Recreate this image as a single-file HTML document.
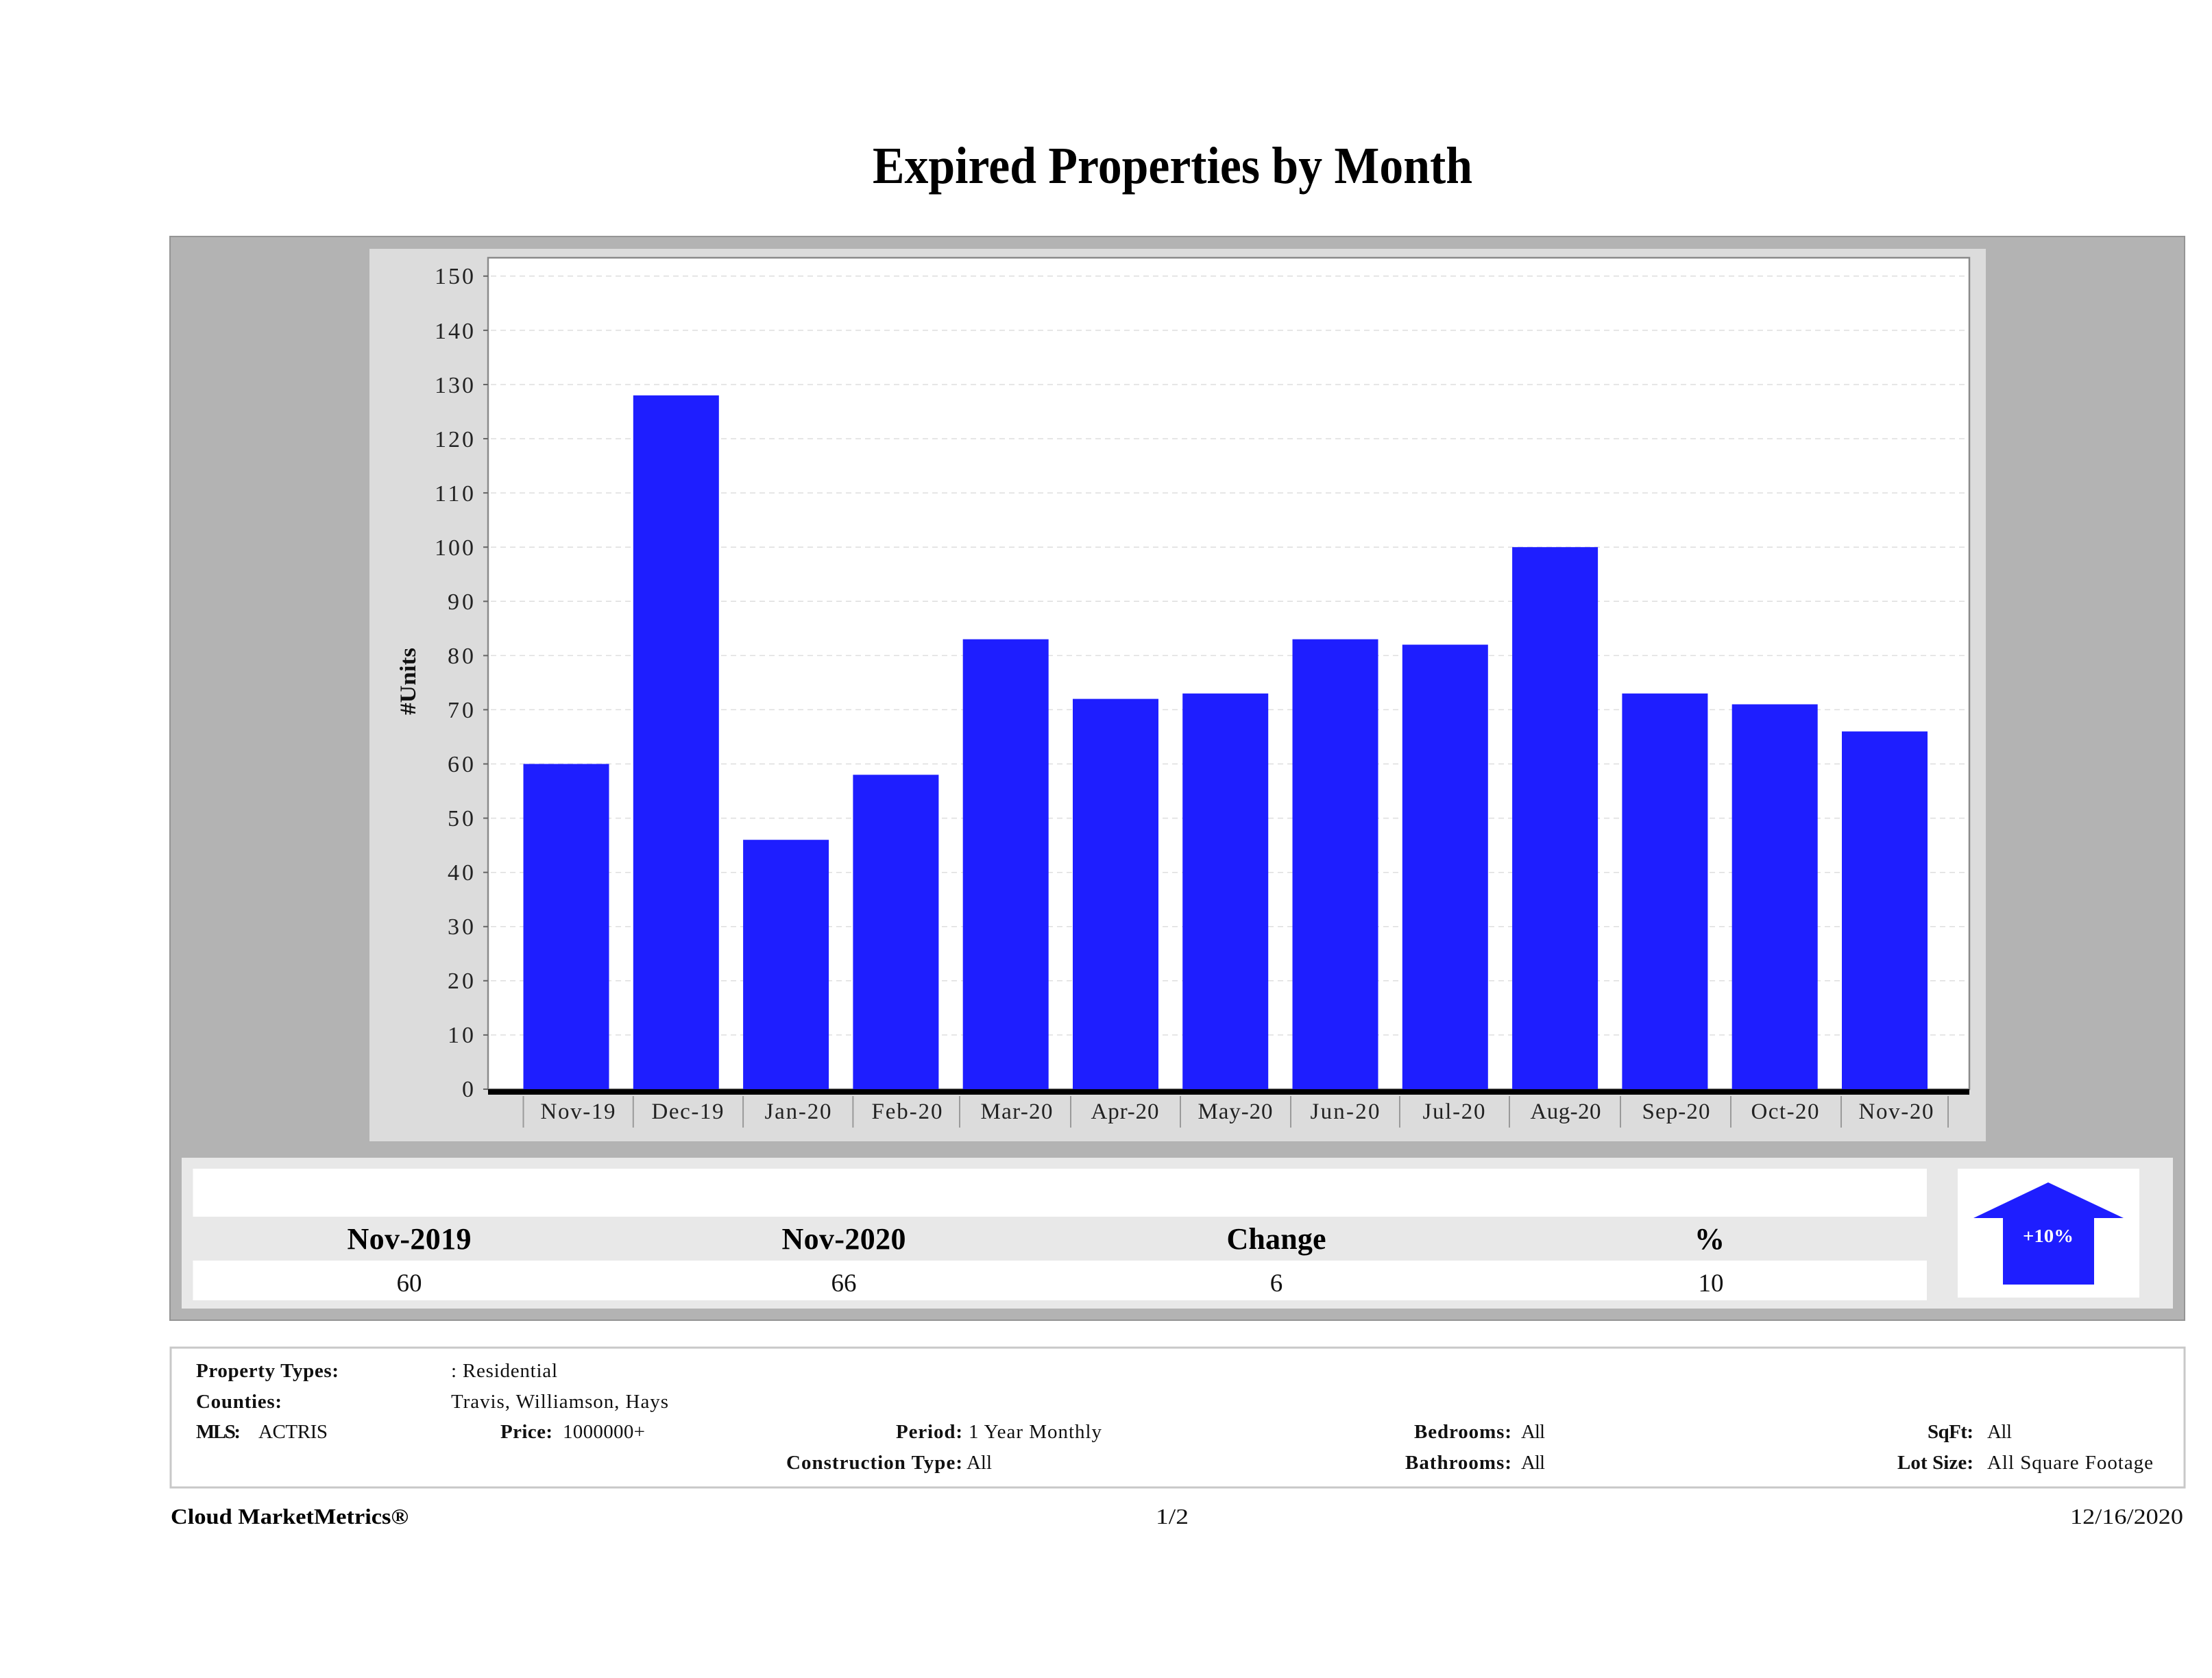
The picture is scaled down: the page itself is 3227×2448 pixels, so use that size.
<!DOCTYPE html>
<html>
<head>
<meta charset="utf-8">
<style>
html,body{margin:0;padding:0;background:#fff;}
svg{display:block;}
text{font-family:"Liberation Serif","DejaVu Serif",serif;}
</style>
</head>
<body>
<svg width="3227" height="2448" viewBox="0 0 3227 2448" xmlns="http://www.w3.org/2000/svg">
<rect x="0" y="0" width="3227" height="2448" fill="#ffffff"/>

<!-- Title -->
<text x="1710.5" y="267" font-size="76" font-weight="bold" text-anchor="middle" textLength="875" lengthAdjust="spacingAndGlyphs" fill="#000">Expired Properties by Month</text>

<!-- Outer gray panel -->
<rect x="248" y="345" width="2939" height="1581" fill="#b3b3b3" stroke="#959595" stroke-width="2"/>

<!-- Inner chart panel -->
<rect x="539" y="363" width="2358" height="1302" fill="#dcdcdc"/>

<!-- Plot area -->
<rect x="712" y="376" width="2161" height="1213" fill="#ffffff" stroke="#8a8a8a" stroke-width="2.5"/>

<!-- Gridlines -->
<g stroke="#dedede" stroke-width="1.5" stroke-dasharray="8,6">
<line x1="716" y1="1509.9" x2="2870" y2="1509.9"/>
<line x1="716" y1="1430.8" x2="2870" y2="1430.8"/>
<line x1="716" y1="1351.8" x2="2870" y2="1351.8"/>
<line x1="716" y1="1272.7" x2="2870" y2="1272.7"/>
<line x1="716" y1="1193.6" x2="2870" y2="1193.6"/>
<line x1="716" y1="1114.5" x2="2870" y2="1114.5"/>
<line x1="716" y1="1035.4" x2="2870" y2="1035.4"/>
<line x1="716" y1="956.4" x2="2870" y2="956.4"/>
<line x1="716" y1="877.3" x2="2870" y2="877.3"/>
<line x1="716" y1="798.2" x2="2870" y2="798.2"/>
<line x1="716" y1="719.1" x2="2870" y2="719.1"/>
<line x1="716" y1="640.0" x2="2870" y2="640.0"/>
<line x1="716" y1="561.0" x2="2870" y2="561.0"/>
<line x1="716" y1="481.9" x2="2870" y2="481.9"/>
<line x1="716" y1="402.8" x2="2870" y2="402.8"/>
</g>

<!-- Y ticks -->
<g stroke="#666" stroke-width="2">
<line x1="705" y1="1589" x2="712" y2="1589"/>
<line x1="705" y1="1509.9" x2="712" y2="1509.9"/>
<line x1="705" y1="1430.8" x2="712" y2="1430.8"/>
<line x1="705" y1="1351.8" x2="712" y2="1351.8"/>
<line x1="705" y1="1272.7" x2="712" y2="1272.7"/>
<line x1="705" y1="1193.6" x2="712" y2="1193.6"/>
<line x1="705" y1="1114.5" x2="712" y2="1114.5"/>
<line x1="705" y1="1035.4" x2="712" y2="1035.4"/>
<line x1="705" y1="956.4" x2="712" y2="956.4"/>
<line x1="705" y1="877.3" x2="712" y2="877.3"/>
<line x1="705" y1="798.2" x2="712" y2="798.2"/>
<line x1="705" y1="719.1" x2="712" y2="719.1"/>
<line x1="705" y1="640.0" x2="712" y2="640.0"/>
<line x1="705" y1="561.0" x2="712" y2="561.0"/>
<line x1="705" y1="481.9" x2="712" y2="481.9"/>
<line x1="705" y1="402.8" x2="712" y2="402.8"/>
</g>

<!-- Y labels -->
<g font-size="34" fill="#222" text-anchor="end" lengthAdjust="spacingAndGlyphs">
<text x="691" y="1600" textLength="18">0</text>
<text x="691" y="1521" textLength="38">10</text>
<text x="691" y="1442" textLength="38">20</text>
<text x="691" y="1363" textLength="38">30</text>
<text x="691" y="1284" textLength="38">40</text>
<text x="691" y="1205" textLength="38">50</text>
<text x="691" y="1126" textLength="38">60</text>
<text x="691" y="1047" textLength="38">70</text>
<text x="691" y="968" textLength="38">80</text>
<text x="691" y="889" textLength="38">90</text>
<text x="691" y="810" textLength="57">100</text>
<text x="691" y="731" textLength="57">110</text>
<text x="691" y="652" textLength="57">120</text>
<text x="691" y="573" textLength="57">130</text>
<text x="691" y="494" textLength="57">140</text>
<text x="691" y="414" textLength="57">150</text>
</g>

<!-- Y axis title -->
<text transform="translate(606,994) rotate(-90)" x="0" y="0" font-size="33" font-weight="bold" text-anchor="middle" textLength="98" lengthAdjust="spacingAndGlyphs" fill="#111">#Units</text>

<!-- Bars -->
<g fill="#1e1eff">
<rect x="763.5" y="1114.5" width="125" height="474.5"/>
<rect x="923.8" y="576.8" width="125" height="1012.2"/>
<rect x="1084.1" y="1225.2" width="125" height="363.8"/>
<rect x="1244.4" y="1130.3" width="125" height="458.7"/>
<rect x="1404.7" y="932.6" width="125" height="656.4"/>
<rect x="1565.0" y="1019.6" width="125" height="569.4"/>
<rect x="1725.2" y="1011.7" width="125" height="577.3"/>
<rect x="1885.5" y="932.6" width="125" height="656.4"/>
<rect x="2045.8" y="940.5" width="125" height="648.5"/>
<rect x="2206.1" y="798.2" width="125" height="790.8"/>
<rect x="2366.4" y="1011.7" width="125" height="577.3"/>
<rect x="2526.7" y="1027.5" width="125" height="561.5"/>
<rect x="2687.0" y="1067.1" width="125" height="521.9"/>
</g>

<!-- X axis thick line -->
<rect x="712" y="1589" width="2161" height="8" fill="#000"/>

<!-- Category separators -->
<g stroke="#9a9a9a" stroke-width="2">
<line x1="763.5" y1="1599" x2="763.5" y2="1645"/>
<line x1="923.8" y1="1599" x2="923.8" y2="1645"/>
<line x1="1084.1" y1="1599" x2="1084.1" y2="1645"/>
<line x1="1244.4" y1="1599" x2="1244.4" y2="1645"/>
<line x1="1400" y1="1599" x2="1400" y2="1645"/>
<line x1="1562" y1="1599" x2="1562" y2="1645"/>
<line x1="1722" y1="1599" x2="1722" y2="1645"/>
<line x1="1883" y1="1599" x2="1883" y2="1645"/>
<line x1="2042" y1="1599" x2="2042" y2="1645"/>
<line x1="2202" y1="1599" x2="2202" y2="1645"/>
<line x1="2364" y1="1599" x2="2364" y2="1645"/>
<line x1="2525" y1="1599" x2="2525" y2="1645"/>
<line x1="2686" y1="1599" x2="2686" y2="1645"/>
<line x1="2842" y1="1599" x2="2842" y2="1645"/>
</g>

<!-- X labels -->
<g font-size="33" fill="#222" text-anchor="middle" lengthAdjust="spacingAndGlyphs">
<text x="843" y="1632" textLength="109">Nov-19</text>
<text x="1003" y="1632" textLength="105">Dec-19</text>
<text x="1164" y="1632" textLength="97">Jan-20</text>
<text x="1323" y="1632" textLength="103">Feb-20</text>
<text x="1483" y="1632" textLength="105">Mar-20</text>
<text x="1641" y="1632" textLength="99">Apr-20</text>
<text x="1802" y="1632" textLength="109">May-20</text>
<text x="1962" y="1632" textLength="101">Jun-20</text>
<text x="2121" y="1632" textLength="91">Jul-20</text>
<text x="2284" y="1632" textLength="103">Aug-20</text>
<text x="2445" y="1632" textLength="99">Sep-20</text>
<text x="2604" y="1632" textLength="99">Oct-20</text>
<text x="2766" y="1632" textLength="109">Nov-20</text>
</g>

<!-- Summary panel -->
<rect x="265" y="1689" width="2905" height="220" fill="#e8e8e8"/>
<rect x="281.5" y="1705" width="2529.5" height="70" fill="#ffffff"/>
<rect x="281.5" y="1839" width="2529.5" height="58" fill="#ffffff"/>

<g font-size="44" font-weight="bold" fill="#000" text-anchor="middle" lengthAdjust="spacingAndGlyphs">
<text x="597" y="1822" textLength="181">Nov-2019</text>
<text x="1231" y="1822" textLength="181">Nov-2020</text>
<text x="1862" y="1822" textLength="145">Change</text>
<text x="2494" y="1822" textLength="36">%</text>
</g>
<g font-size="37" fill="#111" text-anchor="middle">
<text x="597" y="1884">60</text>
<text x="1231" y="1884">66</text>
<text x="1862" y="1884">6</text>
<text x="2496" y="1884">10</text>
</g>

<!-- Arrow box -->
<rect x="2856" y="1705" width="265" height="188" fill="#ffffff"/>
<polygon points="2988,1725 3098,1777 3055,1777 3055,1874 2922,1874 2922,1777 2879,1777" fill="#1e1eff"/>
<text x="2988" y="1812" font-size="27" font-weight="bold" fill="#ffffff" text-anchor="middle" textLength="74" lengthAdjust="spacingAndGlyphs">+10%</text>

<!-- Info box -->
<rect x="249" y="1966" width="2938" height="204" fill="#ffffff" stroke="#c8c8c8" stroke-width="3"/>

<g font-size="29" fill="#111" lengthAdjust="spacingAndGlyphs">
<text x="286" y="2009" font-weight="bold" textLength="208">Property Types:</text>
<text x="658" y="2009" textLength="155">: Residential</text>
<text x="286" y="2054" font-weight="bold" textLength="125">Counties:</text>
<text x="658" y="2054" textLength="317">Travis, Williamson, Hays</text>
<text x="286" y="2098" font-weight="bold" textLength="65">MLS:</text>
<text x="377" y="2098" textLength="101">ACTRIS</text>
<text x="730" y="2098" font-weight="bold" textLength="76">Price:</text>
<text x="821" y="2098" textLength="120">1000000+</text>
<text x="1307" y="2098" font-weight="bold" textLength="97">Period:</text>
<text x="1413" y="2098" textLength="194">1 Year Monthly</text>
<text x="1147" y="2143" font-weight="bold" textLength="257">Construction Type:</text>
<text x="1410" y="2143" textLength="37">All</text>
<text x="2063" y="2098" font-weight="bold" textLength="142">Bedrooms:</text>
<text x="2219" y="2098" textLength="35">All</text>
<text x="2050" y="2143" font-weight="bold" textLength="155">Bathrooms:</text>
<text x="2219" y="2143" textLength="35">All</text>
<text x="2812" y="2098" font-weight="bold" textLength="67">SqFt:</text>
<text x="2899" y="2098" textLength="36">All</text>
<text x="2768" y="2143" font-weight="bold" textLength="111">Lot Size:</text>
<text x="2899" y="2143" textLength="242">All Square Footage</text>
</g>

<!-- Footer -->
<text x="249" y="2223" font-size="32" font-weight="bold" fill="#000" textLength="347" lengthAdjust="spacingAndGlyphs">Cloud MarketMetrics®</text>
<text x="1710" y="2223" font-size="32" fill="#111" text-anchor="middle" textLength="48" lengthAdjust="spacingAndGlyphs">1/2</text>
<text x="3185" y="2223" font-size="32" fill="#111" text-anchor="end" textLength="165" lengthAdjust="spacingAndGlyphs">12/16/2020</text>
</svg>
</body>
</html>
